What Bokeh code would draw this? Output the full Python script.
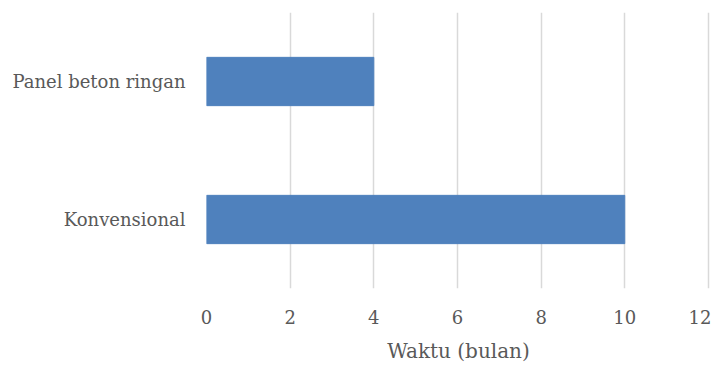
from bokeh.plotting import figure
from bokeh.models import FactorRange, Range1d, FixedTicker
from bokeh.embed import file_html
from bokeh.resources import INLINE

categories = ["Konvensional", "Panel beton ringan"]
values = [10, 4]
x_ticks = [0, 2, 4, 6, 8, 10, 12]

FONT = "'DejaVu Serif', serif"
TXT = "#595959"

p = figure(width=711, height=365, output_backend="svg", toolbar_location=None,
           y_range=FactorRange(*categories, range_padding=0),
           x_range=Range1d(0, 12.05),
           min_border_left=206, min_border_right=1, min_border_top=12, min_border_bottom=77)
p.hbar(y=categories, right=values, left=0, height=0.35, color="#4f81bd")

p.outline_line_color = None
p.ygrid.grid_line_color = None
p.xgrid.grid_line_color = "#d9d9d9"
p.xgrid.grid_line_width = 1.5
p.xaxis.ticker = FixedTicker(ticks=x_ticks)
for ax in (p.xaxis[0], p.yaxis[0]):
    ax.axis_line_color = None
    ax.major_tick_line_color = None
    ax.minor_tick_line_color = None
    ax.major_label_text_font = FONT
    ax.major_label_text_color = TXT
    ax.major_label_text_font_size = "18px"

p.yaxis.major_label_standoff = 15
p.xaxis.major_label_standoff = 15
p.xaxis.axis_label = "Waktu (bulan)"
p.xaxis.axis_label_text_font = FONT
p.xaxis.axis_label_text_font_style = "normal"
p.xaxis.axis_label_text_color = TXT
p.xaxis.axis_label_text_font_size = "20px"
p.xaxis.axis_label_standoff = 12

open("out.html", "w").write(file_html(p, INLINE))
